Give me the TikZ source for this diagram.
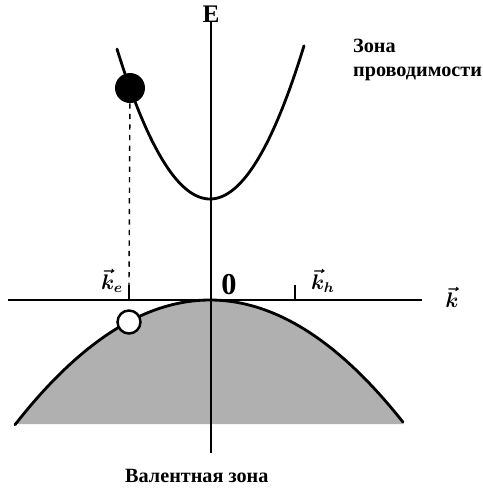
\documentclass[tikz,border=0pt]{standalone}
\usepackage{fontspec}
\setmainfont{Liberation Serif}
\begin{document}
\begin{tikzpicture}[
    x=0.02cm, y=-0.02cm,
    every node/.style={font=\bfseries},
    % Stijl voor de assen
    axis/.style={line width=0.8pt},
    % Stijl voor de banden
    band/.style={line width=1.6pt, line cap=round},
    eldot/.style={circle, fill=black, inner sep=0pt, minimum size=0.6cm},
    holedot/.style={circle, draw=black, fill=white, line width=1.4pt, inner sep=0pt, minimum size=0.46cm},
    tickmark/.style={line width=1.4pt},
    klabel/.style={font=\boldmath\large, inner sep=1pt},
    zonelabel/.style={font=\bfseries\fontsize{11.5}{14}\selectfont, anchor=west, align=left}
]
\useasboundingbox (0,0) rectangle (483,488);

% --- Valentieband (gevuld) ---
\fill[gray!62] (15,424) -- plot[domain=15:403, samples=80] (\x, {300+0.328*((\x-210)/10)^2}) -- (403,424) -- cycle;

% --- Assen ---
\coordinate (ytop) at (211,22);
\coordinate (ybot) at (211,453);
\coordinate (xleft) at (8,300);
\coordinate (xright) at (422,300);
\draw[axis] (ybot) -- (ytop);
\draw[axis] (xleft) -- (xright);
\node (E) at (211,14) {\Large E};
\node[klabel] (k) at (452,297) {$\vec{k}$};
\node (zero) at (229,285) {\LARGE 0};

% --- Banden ---
\draw[band] plot[domain=15:403, samples=80] (\x, {300+0.328*((\x-210)/10)^2});
\draw[band] plot[domain=117:304, samples=80] (\x, {199-1.734*((\x-210)/10)^2});

% --- Tekens op de k-as ---
\coordinate (ke) at (129,300);
\coordinate (ketop) at (129,285);
\coordinate (kh) at (295,300);
\coordinate (khtop) at (295,285);
\draw[tickmark] (ke) -- (ketop);
\draw[tickmark] (kh) -- (khtop);
\node[klabel] (kelabel) at (112,281) {$\vec{k}_e$};
\node[klabel] (khlabel) at (323,281) {$\vec{k}_h$};

% --- Elektron en gat ---
\node[eldot] (el) at (130,88) {};
\node[holedot] (hole) at (129,322) {};
\draw[dashed, line width=0.8pt] (el) -- (ketop);

% --- Labels ---
\node[zonelabel] (cb) at (347,60) {Зона\\проводимости};
\node[zonelabel] (vb) at (119,476) {Валентная зона};

\end{tikzpicture}
\end{document}
